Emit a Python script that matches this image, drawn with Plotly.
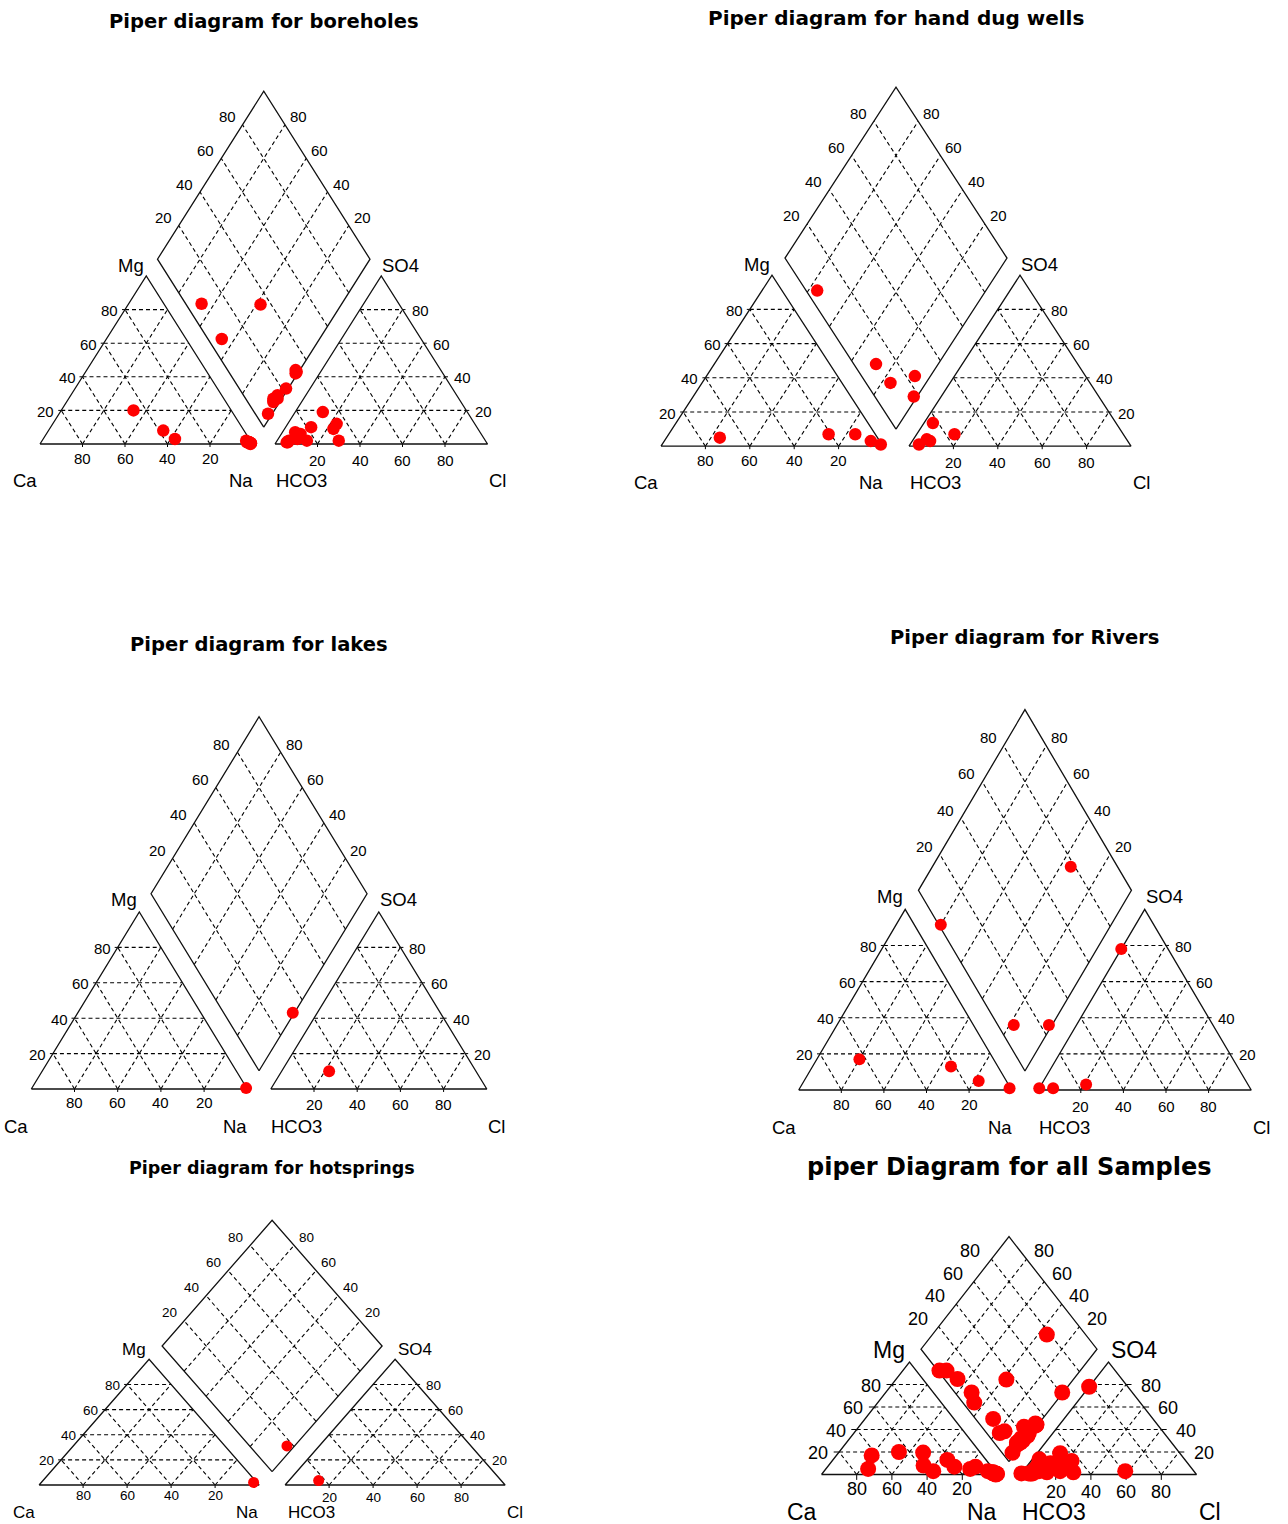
import plotly.graph_objects as go

FIG_W, FIG_H = 1288, 1524

# ---------------- sample chemistry (meq %) ----------------
# boreholes
bh_ca   = [46, 38, 35, 1, 0.5, 1, 2, 0.5, 2, 1, 1, 2]
bh_mg   = [20, 8, 3, 1, 0.5, 0, 2, 0.5, 1, 1, 1, 1]
bh_na   = [34, 54, 62, 98, 99, 99, 96, 99, 97, 98, 98, 97]
bh_hco3 = [92.5, 93.5, 65, 68, 68, 69, 87, 78, 84, 85, 94, 88]
bh_so4  = [2, 1, 12, 19, 9, 2, 7, 10, 2, 6, 1, 3]
bh_cl   = [5.5, 5.5, 23, 13, 23, 29, 6, 12, 14, 9, 5, 9]

# hand dug wells
hw_ca   = [71, 21, 9, 4, 0.5]
hw_mg   = [5, 7, 7, 3, 1]
hw_na   = [24, 72, 84, 93, 98.5]
hw_hco3 = [95, 90, 89, 76, 82.5]
hw_so4  = [1, 4, 3, 7, 13.5]
hw_cl   = [4, 6, 8, 17, 4]

# lakes
lk_ca   = [0.3]
lk_mg   = [0.5]
lk_na   = [99.2]
lk_hco3 = [68]
lk_so4  = [10]
lk_cl   = [22]

# rivers
rv_ca   = [63, 22, 13, 0.5]
rv_mg   = [17, 13, 5, 1]
rv_na   = [20, 65, 82, 98.5]
rv_hco3 = [99, 22, 92.5, 76]
rv_so4  = [1, 78, 1, 3]
rv_cl   = [0, 0, 6.5, 21]

# hot springs
hs_ca   = [1.5]
hs_mg   = [2]
hs_na   = [96.5]
hs_hco3 = [83]
hs_so4  = [3.5]
hs_cl   = [13.5]

# further samples that only appear in the combined plot
ot_ca   = [32.5, 0]
ot_mg   = [19.5, 0.5]
ot_na   = [48, 99.5]
ot_hco3 = [90.5, 39]
ot_so4  = [3, 3]
ot_cl   = [6.5, 58]

tick_values = [20, 40, 60, 80]

groups = {
    "bh": (bh_ca, bh_mg, bh_na, bh_hco3, bh_so4, bh_cl),
    "hw": (hw_ca, hw_mg, hw_na, hw_hco3, hw_so4, hw_cl),
    "lk": (lk_ca, lk_mg, lk_na, lk_hco3, lk_so4, lk_cl),
    "rv": (rv_ca, rv_mg, rv_na, rv_hco3, rv_so4, rv_cl),
    "hs": (hs_ca, hs_mg, hs_na, hs_hco3, hs_so4, hs_cl),
}
all_cols = [[], [], [], [], [], []]
for key in ["bh", "hw", "lk", "rv", "hs"]:
    for j in range(6):
        all_cols[j] += groups[key][j]
for j, col in enumerate((ot_ca, ot_mg, ot_na, ot_hco3, ot_so4, ot_cl)):
    all_cols[j] += col
groups["all"] = tuple(all_cols)

# ---------------- panel layout (pixels) ----------------
panels = [
    dict(key="bh", title="Piper diagram for boreholes", x0=40, y0=444, w=212.5, h=168,
         gap=22.5, vb=0.10, tgap=70, tfs=19.5, lfs=18.5, kfs=15, ms=12.5, bdy=36, tdy=11,
         pad=1.0, ls=1.0, kb=(14, 16)),
    dict(key="hw", title="Piper diagram for hand dug wells", x0=661, y0=446.2, w=222, h=171,
         gap=26, vb=0.10, tgap=69, tfs=20, lfs=18.5, kfs=15, ms=12.5, bdy=36, tdy=11,
         pad=1.0, ls=1.0, kb=(14, 16)),
    dict(key="lk", title="Piper diagram for lakes", x0=31.3, y0=1089, w=216, h=177,
         gap=23.5, vb=0.103, tgap=72, tfs=19.5, lfs=18.5, kfs=15, ms=12, bdy=37.5, tdy=12.5,
         pad=1.0, ls=1.0, kb=(14, 16)),
    dict(key="rv", title="Piper diagram for Rivers", x0=798.7, y0=1090, w=213, h=180.7,
         gap=26.5, vb=0.105, tgap=72, tfs=19.5, lfs=18.5, kfs=15, ms=12, bdy=37, tdy=12.5,
         pad=1.0, ls=1.0, kb=(14, 16)),
    dict(key="hs", title="Piper diagram for hotsprings", x0=39.1, y0=1485, w=220, h=125.7,
         gap=26, vb=0.106, tgap=52, tfs=17.5, lfs=17, kfs=13.5, ms=11, bdy=27, tdy=9.5,
         pad=1.0, ls=1.0, kb=(10, 12)),
    dict(key="all", title="piper Diagram for all Samples", x0=821.5, y0=1474.5, w=176, h=112.5,
         gap=23, vb=0.114, tgap=70, tfs=24, lfs=23, kfs=18, ms=16, bdy=37, tdy=12.5,
         pad=1.8, ls=1.3, kb=(14, 17)),
]

LINE = "#000000"
LABEL_FONT = "Liberation Sans, Arial, sans-serif"
TITLE_FONT = "DejaVu Sans, Verdana, sans-serif"


def cation_xy(ca, mg, na):
    s = ca + mg + na
    return (na + mg / 2) / s, mg / s


def anion_xy(hco3, so4, cl, g):
    s = hco3 + so4 + cl
    return 1 + g + (cl + so4 / 2) / s, so4 / s


def diamond_xy(ca, mg, na, hco3, so4, cl, g, vb):
    c = (ca + mg) / (ca + mg + na)
    a = (so4 + cl) / (hco3 + so4 + cl)
    return 1 + g / 2 + 0.5 * (a - c), vb + a + c


def polyline(segs):
    xs, ys = [], []
    for seg in segs:
        for (x, y) in seg:
            xs.append(x)
            ys.append(y)
        xs.append(None)
        ys.append(None)
    return xs, ys


fig = go.Figure()
annotations = []
layout_axes = {}

for i, p in enumerate(panels, start=1):
    g = p["gap"] / p["w"]
    vb = p["vb"]
    w, h = p["w"], p["h"]
    xr = "x" if i == 1 else f"x{i}"
    yr = "y" if i == 1 else f"y{i}"
    umin, umax = -0.12, 2 + g + 0.12
    vmin, vmax = -0.16, 2 + vb + 0.06
    layout_axes["xaxis" if i == 1 else f"xaxis{i}"] = dict(
        domain=[(p["x0"] + umin * w) / FIG_W, (p["x0"] + umax * w) / FIG_W],
        range=[umin, umax], visible=False, fixedrange=True, anchor=yr)
    layout_axes["yaxis" if i == 1 else f"yaxis{i}"] = dict(
        domain=[1 - (p["y0"] - vmin * h) / FIG_H, 1 - (p["y0"] - vmax * h) / FIG_H],
        range=[vmin, vmax], visible=False, fixedrange=True, anchor=xr)

    bx = 1 + g / 2
    # dashed grid
    grid = []
    for t in tick_values:
        k = t / 100
        grid += [[(k / 2, k), (1 - k / 2, k)],
                 [(k, 0), ((1 + k) / 2, 1 - k)],
                 [(1 - k, 0), ((1 - k) / 2, 1 - k)]]
        o = 1 + g
        grid += [[(o + k / 2, k), (o + 1 - k / 2, k)],
                 [(o + k, 0), (o + (1 + k) / 2, 1 - k)],
                 [(o + 1 - k, 0), (o + (1 - k) / 2, 1 - k)]]
        grid += [[(bx - k / 2, vb + k), (bx - k / 2 + 0.5, vb + k + 1)],
                 [(bx + k / 2, vb + k), (bx + k / 2 - 0.5, vb + k + 1)]]
    gx, gy = polyline(grid)
    fig.add_trace(go.Scatter(x=gx, y=gy, mode="lines", xaxis=xr, yaxis=yr,
                             line=dict(color=LINE, width=1.1, dash="4px,3px"),
                             hoverinfo="skip", showlegend=False))

    # small ticks on the scaled edges
    tl = 3.0 * p["pad"]
    ticks = []
    for t in tick_values:
        k = t / 100
        ticks.append([(k, 0), (k, -tl / h)])
        ticks.append([(1 + g + k, 0), (1 + g + k, -tl / h)])
        ticks.append([(k / 2, k), (k / 2 - tl / w, k)])
        ticks.append([(2 + g - k / 2, k), (2 + g - k / 2 + tl / w, k)])
    tx, ty = polyline(ticks)
    fig.add_trace(go.Scatter(x=tx, y=ty, mode="lines", xaxis=xr, yaxis=yr,
                             line=dict(color=LINE, width=1),
                             hoverinfo="skip", showlegend=False))

    # solid outlines of the three fields
    frame = [[(0, 0), (1, 0), (0.5, 1), (0, 0)],
             [(1 + g, 0), (2 + g, 0), (1.5 + g, 1), (1 + g, 0)],
             [(bx, vb), (bx + 0.5, vb + 1), (bx, vb + 2), (bx - 0.5, vb + 1), (bx, vb)]]
    fx, fy = polyline(frame)
    fig.add_trace(go.Scatter(x=fx, y=fy, mode="lines", xaxis=xr, yaxis=yr,
                             line=dict(color="#111111", width=1.3),
                             hoverinfo="skip", showlegend=False))

    # samples projected into the cation, anion and diamond fields
    ca, mg, na, hco3, so4, cl = groups[p["key"]]
    px, py = [], []
    for n in range(len(ca)):
        cx, cy = cation_xy(ca[n], mg[n], na[n])
        ax, ay = anion_xy(hco3[n], so4[n], cl[n], g)
        dx, dy = diamond_xy(ca[n], mg[n], na[n], hco3[n], so4[n], cl[n], g, vb)
        px += [cx, ax, dx]
        py += [cy, ay, dy]
    fig.add_trace(go.Scatter(x=px, y=py, mode="markers", xaxis=xr, yaxis=yr,
                             marker=dict(color="#ff0000", size=p["ms"], line=dict(width=0)),
                             cliponaxis=False, hoverinfo="skip", showlegend=False))

    kf = dict(family=LABEL_FONT, size=p["kfs"], color="#000")
    lf = dict(family=LABEL_FONT, size=p["lfs"], color="#000")
    pad = p["pad"]

    def ann(x, y, text, font, xanchor="center", xshift=0, yshift=0):
        annotations.append(dict(x=x, y=y, xref=xr, yref=yr, text=text, showarrow=False,
                                font=font, xanchor=xanchor, yanchor="middle",
                                xshift=xshift, yshift=yshift))

    for t in tick_values:
        k = t / 100
        # cation base: % Ca, anion base: % Cl
        ann(1 - k, 0, str(t), kf, yshift=-p["kb"][0])
        ann(1 + g + k, 0, str(t), kf, yshift=-p["kb"][1])
        # Mg on left edge, SO4 on right edge
        ann(k / 2, k, str(t), kf, xanchor="right", xshift=-5 * pad, yshift=-1)
        ann(2 + g - k / 2, k, str(t), kf, xanchor="left", xshift=7 * pad, yshift=-1)
        # diamond: SO4+Cl on upper-left edge, Ca+Mg on upper-right edge
        ann(bx - 0.5 + k / 2, vb + 1 + k, str(t), kf, xanchor="right", xshift=-5 * pad, yshift=8)
        ann(bx + 0.5 - k / 2, vb + 1 + k, str(t), kf, xanchor="left", xshift=3 * pad, yshift=8)

    s = p["ls"]
    ann(0, 0, "Ca", lf, xshift=-15 * s, yshift=-p["bdy"])
    ann(1, 0, "Na", lf, xshift=-12 * s, yshift=-p["bdy"])
    ann(1 + g, 0, "HCO3", lf, xshift=26 * s, yshift=-p["bdy"])
    ann(2 + g, 0, "Cl", lf, xshift=10 * s, yshift=-p["bdy"])
    ann(0.5, 1, "Mg", lf, xshift=-15.5 * s, yshift=p["tdy"])
    ann(1.5 + g, 1, "SO4", lf, xshift=19.5 * s, yshift=p["tdy"])

    # panel title
    top_px = p["y0"] - (vb + 2) * h
    cx_px = p["x0"] + bx * w
    annotations.append(dict(x=cx_px / FIG_W, y=1 - (top_px - p["tgap"]) / FIG_H,
                            xref="paper", yref="paper", text=p["title"], showarrow=False,
                            xanchor="center", yanchor="middle",
                            font=dict(family=TITLE_FONT, size=p["tfs"], color="#000",
                                      weight="bold")))

fig.update_layout(width=FIG_W, height=FIG_H, margin=dict(l=0, r=0, t=0, b=0),
                  paper_bgcolor="white", plot_bgcolor="rgba(0,0,0,0)",
                  showlegend=False, annotations=annotations, **layout_axes)

fig.write_html("out.html")
